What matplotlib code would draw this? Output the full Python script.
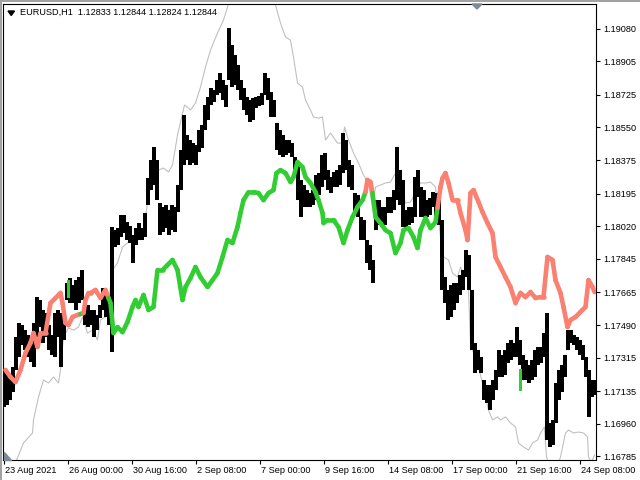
import numpy as np
import matplotlib
matplotlib.use('Agg')
import matplotlib.pyplot as plt
from matplotlib.collections import LineCollection
from matplotlib.patches import Polygon
from matplotlib.lines import Line2D
import matplotlib.transforms as mtransforms

plt.rcParams['font.family'] = ['Liberation Sans', 'DejaVu Sans']

title = 'EURUSD,H1  1.12833 1.12844 1.12824 1.12844'

# H1 bars, bar 0 = first bar on screen (23 Aug 2021)
date_ticks = [0, 64, 128, 192, 256, 320, 384, 448, 512, 576]
date_labels = ['23 Aug 2021', '26 Aug 00:00', '30 Aug 16:00', '2 Sep 08:00',
               '7 Sep 00:00', '9 Sep 16:00', '14 Sep 08:00', '17 Sep 00:00',
               '21 Sep 16:00', '24 Sep 08:00']
price_ticks = [1.19080, 1.18905, 1.18725, 1.18550, 1.18375, 1.18195, 1.18020,
               1.17845, 1.17665, 1.17490, 1.17315, 1.17135, 1.16960, 1.16785]

# price bars, one high/low column every 3 bars
bar_step = 3
black_hi = [1.17249, 1.17238, 1.17222, 1.17265, 1.17426, 1.17501, 1.17490, 1.17463, 1.17436, 1.17426, 1.17501, 1.17640,
            1.17624, 1.17571, 1.17554, 1.17490, 1.17436, 1.17554, 1.17571, 1.17554, 1.17554, 1.17715, 1.17742, 1.17705,
            1.17731, 1.17747, 1.17785, 1.17624, 1.17597, 1.17571, 1.17571, 1.17544, 1.17597, 1.17688, 1.17667, 1.17608,
            1.18016, 1.17999, 1.18010, 1.18080, 1.18080, 1.18042, 1.18021, 1.17973, 1.18010, 1.18037, 1.18010, 1.18091,
            1.18278, 1.18375, 1.18445, 1.18375, 1.18144, 1.18123, 1.18134, 1.18107, 1.18134, 1.18123, 1.18241, 1.18429,
            1.18616, 1.18509, 1.18482, 1.18466, 1.18455, 1.18536, 1.18563, 1.18670, 1.18713, 1.18761, 1.18750, 1.18804,
            1.18842, 1.18804, 1.18777, 1.19083, 1.18992, 1.18938, 1.18884, 1.18804, 1.18761, 1.18713, 1.18697, 1.18707,
            1.18713, 1.18718, 1.18734, 1.18842, 1.18815, 1.18740, 1.18697, 1.18573, 1.18536, 1.18509, 1.18482, 1.18482,
            1.18466, 1.18391, 1.18348, 1.18268, 1.18241, 1.18214, 1.18198, 1.18214, 1.18295, 1.18305, 1.18402, 1.18413,
            1.18321, 1.18284, 1.18311, 1.18321, 1.18348, 1.18520, 1.18482, 1.18375, 1.18348, 1.18198, 1.18187, 1.18069,
            1.18053, 1.17946, 1.17919, 1.17839, 1.18160, 1.18160, 1.18123, 1.18123, 1.18177, 1.18177, 1.18214, 1.18445,
            1.18321, 1.18268, 1.18107, 1.18123, 1.18123, 1.18284, 1.18321, 1.18230, 1.18214, 1.18160, 1.18171, 1.18203,
            1.18198, 1.18160, 1.18053, 1.17747, 1.17678, 1.17705, 1.17715, 1.17715, 1.17758, 1.17785, 1.17892, 1.17865,
            1.17678, 1.17394, 1.17356, 1.17318, 1.17195, 1.17168, 1.17168, 1.17195, 1.17249, 1.17356, 1.17329, 1.17356,
            1.17394, 1.17410, 1.17394, 1.17479, 1.17410, 1.17329, 1.17302, 1.17276, 1.17302, 1.17356, 1.17372, 1.17372,
            1.17447, 1.17554, 1.16965, 1.16981, 1.17179, 1.17249, 1.17276, 1.17329, 1.17463, 1.17463, 1.17436, 1.17426,
            1.17410, 1.17383, 1.17318, 1.17249, 1.17195, 1.17195]
black_lo = [1.17050, 1.17061, 1.17088, 1.17131, 1.17249, 1.17318, 1.17383, 1.17356, 1.17318, 1.17292, 1.17265, 1.17426,
            1.17479, 1.17394, 1.17426, 1.17356, 1.17329, 1.17318, 1.17426, 1.17265, 1.17410, 1.17624, 1.17608, 1.17608,
            1.17571, 1.17608, 1.17624, 1.17490, 1.17479, 1.17490, 1.17426, 1.17463, 1.17528, 1.17571, 1.17533, 1.17490,
            1.17345, 1.17908, 1.17919, 1.17962, 1.17983, 1.17946, 1.17930, 1.17823, 1.17919, 1.17946, 1.17946, 1.17962,
            1.18134, 1.18214, 1.18241, 1.18160, 1.17973, 1.17989, 1.18010, 1.17973, 1.17999, 1.17989, 1.18096, 1.18214,
            1.18348, 1.18375, 1.18348, 1.18359, 1.18348, 1.18418, 1.18439, 1.18536, 1.18589, 1.18670, 1.18686, 1.18724,
            1.18734, 1.18697, 1.18659, 1.18804, 1.18766, 1.18777, 1.18750, 1.18697, 1.18643, 1.18616, 1.18579, 1.18589,
            1.18654, 1.18665, 1.18670, 1.18724, 1.18697, 1.18606, 1.18606, 1.18429, 1.18402, 1.18391, 1.18402, 1.18413,
            1.18391, 1.18305, 1.18160, 1.18069, 1.18123, 1.18123, 1.18123, 1.18134, 1.18160, 1.18187, 1.18230, 1.18268,
            1.18214, 1.18198, 1.18230, 1.18230, 1.18241, 1.18305, 1.18321, 1.18230, 1.18214, 1.18080, 1.18069, 1.17946,
            1.17946, 1.17823, 1.17785, 1.17715, 1.17999, 1.18026, 1.18016, 1.18026, 1.18091, 1.18091, 1.18107, 1.18160,
            1.18134, 1.18016, 1.17999, 1.18026, 1.18037, 1.18069, 1.18177, 1.18069, 1.18069, 1.18069, 1.18080, 1.18123,
            1.18053, 1.18026, 1.17678, 1.17608, 1.17517, 1.17533, 1.17571, 1.17608, 1.17651, 1.17678, 1.17747, 1.17678,
            1.17356, 1.17233, 1.17249, 1.17233, 1.17088, 1.17072, 1.17034, 1.17088, 1.17141, 1.17211, 1.17211, 1.17222,
            1.17286, 1.17302, 1.17318, 1.17318, 1.17276, 1.17195, 1.17195, 1.17179, 1.17195, 1.17211, 1.17276, 1.17286,
            1.17318, 1.16873, 1.16836, 1.16847, 1.16965, 1.17088, 1.17131, 1.17211, 1.17356, 1.17394, 1.17383, 1.17356,
            1.17329, 1.17302, 1.17211, 1.16997, 1.17104, 1.17115]

# two single green bars
green_bar_idx = [64, 516]
green_bar_hi = [1.17731, 1.17254]
green_bar_lo = [1.17640, 1.17141]

# thick indicator line (salmon / green)
thick_idx = [2, 7, 12, 17, 22, 27, 30, 34, 37, 42, 47, 52, 57, 59, 62, 65, 69, 74,
             77, 80, 82, 85, 87, 92, 97, 102,
             105, 107, 110, 114, 119, 124, 129, 132, 135, 140, 145, 150, 154, 159, 164, 169,
             174, 179, 182, 187, 192, 197, 204, 209, 214, 219, 224, 229, 234, 237, 240, 245,
             250, 255, 260, 265, 270, 273, 277, 282, 287, 290, 294, 299, 302, 307, 312, 315,
             319, 320, 324, 330, 335, 340, 344, 349, 354, 359,
             362, 364, 367,
             369, 372, 377, 382, 387, 392, 395, 397, 400, 405, 410, 414, 417, 422, 427, 432,
             434, 437, 439, 442, 445, 449, 454, 457, 462, 464, 467, 470, 475, 479, 484, 489,
             492, 497, 502, 507, 512, 517, 522, 527, 532, 537, 540, 544, 549, 552, 557, 560,
             564, 567, 572, 579, 582, 585, 589, 591]
thick_val = [1.17249, 1.17211, 1.17184, 1.17249, 1.17340, 1.17394, 1.17447, 1.17372, 1.17447, 1.17447,
             1.17608, 1.17635, 1.17662, 1.17608, 1.17501, 1.17490, 1.17533, 1.17544,
             1.17549, 1.17554, 1.17624, 1.17662, 1.17662, 1.17678, 1.17635, 1.17678,
             1.17635, 1.17608, 1.17447, 1.17479, 1.17452, 1.17506, 1.17587, 1.17624, 1.17587, 1.17651,
             1.17571, 1.17587, 1.17785, 1.17785, 1.17812, 1.17839,
             1.17785, 1.17624, 1.17694, 1.17742, 1.17801, 1.17747, 1.17694, 1.17731, 1.17769, 1.17855,
             1.17946, 1.17930, 1.18016, 1.18091, 1.18160, 1.18203,
             1.18203, 1.18198, 1.18160, 1.18198, 1.18214, 1.18305, 1.18321, 1.18305, 1.18257, 1.18284,
             1.18364, 1.18337, 1.18284, 1.18252, 1.18203, 1.18160,
             1.18091, 1.18037, 1.18053, 1.18053, 1.18016, 1.17930, 1.17999, 1.18069, 1.18123, 1.18160,
             1.18203, 1.18268, 1.18257,
             1.18198, 1.18069, 1.18037, 1.17999, 1.17983, 1.17876, 1.17908, 1.17930, 1.17999, 1.18010,
             1.17962, 1.17903, 1.17999, 1.18064, 1.18010, 1.18042,
             1.18118, 1.18230, 1.18278, 1.18305, 1.18252, 1.18160, 1.18160, 1.18091, 1.17999, 1.17946,
             1.18198, 1.18214, 1.18150, 1.18096, 1.18037, 1.17983,
             1.17855, 1.17801, 1.17747, 1.17694, 1.17608, 1.17662, 1.17640, 1.17667, 1.17635, 1.17640,
             1.17640, 1.17855, 1.17839, 1.17731, 1.17662, 1.17587,
             1.17479, 1.17517, 1.17533, 1.17571, 1.17587, 1.17731, 1.17694, 1.17667]
# colour of the segment that starts at each point: s = salmon, g = green
thick_mode = 's' * 18 + 'g' + 's' * 7 + 'g' * 58 + 's' * 3 + 'g' * 16 + 's' * 40

# thin silver line
gray_idx = [0, 9, 14, 20, 29, 30, 35, 40, 45, 50, 55, 57, 60, 65, 70, 75, 79, 84, 89, 94,
            97, 102, 105, 109, 114, 119, 125, 130, 135, 140, 144, 147, 150, 155, 160, 165,
            169, 174, 177, 181, 185, 187, 192, 197, 202, 207, 214, 220, 224, 227, 237, 247,
            257, 267, 272, 277, 282, 287, 290, 294, 299, 302, 307, 310, 315, 319, 322, 327,
            334, 339, 341, 345, 350, 355, 360, 365, 369, 372, 377, 382, 387, 392, 395, 397,
            402, 407, 412, 417, 422, 427, 432, 434, 437, 440, 445, 449, 454, 457, 460, 464,
            465, 467, 470, 475, 479, 482, 485, 489, 494, 497, 502, 507, 512, 515, 520, 525,
            529, 534, 537, 541, 543, 547, 553, 557, 562, 565, 570, 575, 580, 584, 585, 588, 591]
gray_val = [1.16686, 1.16723, 1.16777, 1.16857, 1.16911, 1.16981, 1.17104, 1.17195, 1.17179, 1.17211,
            1.17179, 1.17249, 1.17426, 1.17474, 1.17463, 1.17479, 1.17533, 1.17447, 1.17463, 1.17410,
            1.17517, 1.17533, 1.17608, 1.17785, 1.17823, 1.17908, 1.17935, 1.17962, 1.17946, 1.17983,
            1.18144, 1.18252, 1.18278, 1.18321, 1.18332, 1.18311,
            1.18348, 1.18509, 1.18579, 1.18670, 1.18654, 1.18643, 1.18681, 1.18766, 1.18874, 1.18965,
            1.19056, 1.19126, 1.19195, 1.19260, 1.19448, 1.19555,
            1.19501, 1.19340, 1.19206, 1.19110, 1.19035, 1.19018, 1.18927, 1.18788, 1.18766, 1.18697,
            1.18643, 1.18606, 1.18600, 1.18606, 1.18482, 1.18520,
            1.18466, 1.18466, 1.18552, 1.18482, 1.18413, 1.18359, 1.18295, 1.18252, 1.18123, 1.18230,
            1.18241, 1.18252, 1.18257, 1.18305, 1.18268, 1.18252,
            1.18144, 1.18150, 1.18198, 1.18252, 1.18252, 1.18257, 1.18230, 1.18118, 1.17962, 1.17855,
            1.17839, 1.17769, 1.17747, 1.17801, 1.17769, 1.17801,
            1.17678, 1.17394, 1.17340, 1.17265, 1.17179, 1.17104, 1.17034, 1.16981, 1.16997, 1.16981,
            1.16997, 1.16965, 1.16943, 1.16857, 1.16836, 1.16820,
            1.16857, 1.16873, 1.16911, 1.16943, 1.16782, 1.16712, 1.16723, 1.16782, 1.16911, 1.16927,
            1.16911, 1.16916, 1.16911, 1.16889, 1.16782, 1.16755, 1.16793]

SALMON = '#fa8072'
GREEN = '#32cd32'
SILVER = '#c0c0c0'
MARK = '#7d8a99'

W, H = 640, 480
fig = plt.figure(figsize=(6.4, 4.8), dpi=100)
ax = fig.add_axes([3 / W, 20 / H, 593 / W, 456 / H])

ax.plot(gray_idx, gray_val, color=SILVER, lw=0.8, zorder=1)

bar_x = np.arange(len(black_hi)) * bar_step
ax.vlines(bar_x, black_lo, black_hi, color='black', lw=2.7, antialiased=False, zorder=2)
ax.vlines(green_bar_idx, green_bar_lo, green_bar_hi, color=GREEN, lw=1.0, antialiased=False, zorder=3)

pts = np.column_stack([thick_idx, thick_val])
segs = np.stack([pts[:-1], pts[1:]], axis=1)
cols = [GREEN if m == 'g' else SALMON for m in thick_mode[:-1]]
lc = LineCollection(segs, colors=cols, linewidths=3.3, capstyle='round', zorder=4)
ax.add_collection(lc)

ax.set_xlim(-0.5, 592.5)
ax.set_ylim(1.16766, 1.19212)

ax.yaxis.tick_right()
ax.set_yticks(price_ticks)
ax.set_yticklabels(['%.5f' % p for p in price_ticks])
ax.set_xticks(date_ticks)
ax.set_xticklabels(date_labels)
ax.tick_params(axis='both', direction='out', length=3, width=0.8, labelsize=6.6, colors='black')
ax.tick_params(axis='y', pad=2)
ax.tick_params(axis='x', pad=1.5)
shift = mtransforms.ScaledTranslation(1.5 / 100, 0, fig.dpi_scale_trans)
for lab in ax.get_xticklabels():
    lab.set_horizontalalignment('left')
    lab.set_transform(lab.get_transform() + shift)
for sp in ax.spines.values():
    sp.set_color('black')
    sp.set_linewidth(0.8)

def px(x, y):
    return (x / W, 1 - y / H)

# header text and small markers
fig.text(20 / W, 1 - 12.5 / H, title, fontsize=6.6, va='center', ha='left')
fig.patches.append(Polygon([px(8, 11), px(14.5, 11), px(11.25, 15.5)], closed=True,
                           transform=fig.transFigure, color='black'))
fig.patches.append(Polygon([px(472, 4), px(482, 4), px(477, 9)], closed=True,
                           transform=fig.transFigure, color=MARK, zorder=5))
fig.patches.append(Polygon([px(4, 452), px(4, 460), px(11, 460)], closed=True,
                           transform=fig.transFigure, color=MARK, zorder=5))
fig.lines.append(Line2D([0, 1], [1 - 0.8 / H, 1 - 0.8 / H], transform=fig.transFigure,
                        color='#a0a0a0', lw=1.4))
fig.lines.append(Line2D([0.8 / W, 0.8 / W], [0, 1], transform=fig.transFigure,
                        color='#a0a0a0', lw=1.4))

fig.savefig('out.png', dpi=100)
